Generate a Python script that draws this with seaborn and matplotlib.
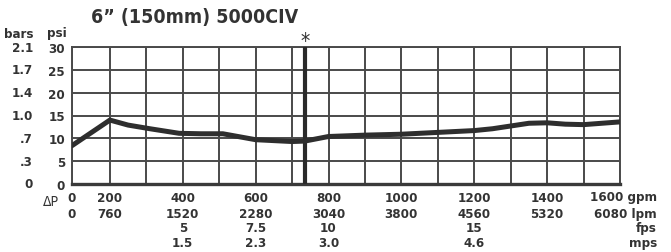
import numpy as np
import pandas as pd
import seaborn as sns
import matplotlib.pyplot as plt
from matplotlib.transforms import blended_transform_factory

# pressure drop curve
flow_gpm = [0, 200, 250, 310, 390, 450, 510, 600, 700, 735, 800, 900, 1000,
            1100, 1200, 1250, 1300, 1350, 1400, 1450, 1500, 1600]
dp_psi = [8.4, 14.0, 12.9, 12.1, 11.1, 11.0, 11.0, 9.7, 9.3, 9.4, 10.4, 10.7, 10.9,
          11.3, 11.7, 12.1, 12.7, 13.3, 13.4, 13.1, 13.0, 13.6]

gpm_ticks = [0, 200, 400, 600, 800, 1000, 1200, 1400, 1600]
lpm_labels = ['0', '760', '1520', '2280', '3040', '3800', '4560', '5320', '6080']
vel_ticks = [400, 600, 800, 1200]
fps_labels = ['5', '7.5', '10', '15']
mps_labels = ['1.5', '2.3', '3.0', '4.6']
psi_ticks = [0, 5, 10, 15, 20, 25, 30]
bars_labels = ['0', '.3', '.7', '1.0', '1.4', '1.7', '2.1']
rated_gpm = 735
title = '6\u201d (150mm) 5000CIV'

sns.set_style('white')
plt.rcParams['font.family'] = ['DejaVu Sans', 'Liberation Sans']
plt.rcParams['font.stretch'] = 'condensed'
plt.rcParams['font.weight'] = 'bold'

ink = '#333333'
W, H = 671, 253
fig = plt.figure(figsize=(W / 100, H / 100), dpi=100)
ax = fig.add_axes([72 / W, 1 - 185 / H, (620 - 72) / W, (185 - 48) / H])


# the 0-200 gpm segment is squeezed on the original chart
def fwd(x):
    x = np.asarray(x, dtype=float)
    return np.where(x < 200, x * 0.52, x - 96)


def inv(y):
    y = np.asarray(y, dtype=float)
    return np.where(y < 104, y / 0.52, y + 96)


ax.set_xscale('function', functions=(fwd, inv))

df = pd.DataFrame({'gpm': flow_gpm, 'psi': dp_psi})
sns.lineplot(data=df, x='gpm', y='psi', ax=ax, color='#2e2e2e', linewidth=3.6,
             solid_joinstyle='round', solid_capstyle='round', zorder=5)

ax.set_xlim(0, 1600)
ax.set_ylim(0, 30)
ax.set_xticks(gpm_ticks)
ax.set_xticks([v for v in range(300, 1600, 200)], minor=True)
ax.set_yticks(psi_ticks)
ax.set_xticklabels([])
ax.set_yticklabels([str(v) for v in psi_ticks], fontsize=9.5, color=ink)
ax.tick_params(axis='x', which='both', length=0)
ax.tick_params(axis='y', length=0, pad=5)
ax.grid(True, which='both', color='#4a4a4a', linewidth=1.4)
ax.set_xlabel('')
ax.set_ylabel('')
for side in ['top', 'right', 'left']:
    ax.spines[side].set_color('#4a4a4a')
    ax.spines[side].set_linewidth(1.4)
ax.spines['bottom'].set_color('#3a3a3a')
ax.spines['bottom'].set_linewidth(2.4)

# rated flow marker
ax.axvline(rated_gpm, color='#2a2a2a', linewidth=3, zorder=4)
tr = blended_transform_factory(ax.transData, fig.transFigure)
ax.text(rated_gpm, 1 - 42 / H, '*', transform=tr, ha='center', va='center',
        fontsize=15, fontweight='normal', color=ink)

# bars column and headers
for p, b in zip(psi_ticks, bars_labels):
    ax.text(33 / W, p, b, transform=blended_transform_factory(fig.transFigure, ax.transData),
            ha='right', va='center', fontsize=9.5, color=ink)
fig.text(19 / W, 1 - 34 / H, 'bars', ha='center', va='center', fontsize=9.5, color=ink)
fig.text(57 / W, 1 - 34 / H, 'psi', ha='center', va='center', fontsize=9.5, color=ink)

# title
fig.text(195 / W, 1 - 17 / H, title, ha='center', va='center', fontsize=14, color=ink)

# flow scales under the axis
for g, l in zip(gpm_ticks[:-1], lpm_labels[:-1]):
    ax.text(g, 1 - 198 / H, str(g), transform=tr, ha='center', va='center', fontsize=9.5, color=ink)
    ax.text(g, 1 - 215 / H, l, transform=tr, ha='center', va='center', fontsize=9.5, color=ink)
for g, f, m in zip(vel_ticks, fps_labels, mps_labels):
    ax.text(g, 1 - 229 / H, f, transform=tr, ha='center', va='center', fontsize=9.5, color=ink)
    ax.text(g, 1 - 244 / H, m, transform=tr, ha='center', va='center', fontsize=9.5, color=ink)

right = 657 / W
fig.text(right, 1 - 198 / H, f'{gpm_ticks[-1]} gpm', ha='right', va='center', fontsize=9.5, color=ink)
fig.text(right, 1 - 215 / H, f'{lpm_labels[-1]} lpm', ha='right', va='center', fontsize=9.5, color=ink)
fig.text(right, 1 - 229 / H, 'fps', ha='right', va='center', fontsize=9.5, color=ink)
fig.text(right, 1 - 244 / H, 'mps', ha='right', va='center', fontsize=9.5, color=ink)
fig.text(51 / W, 1 - 202 / H, '\u0394P', ha='center', va='center', fontsize=10,
         fontweight='normal', color=ink)

fig.savefig('out.png', dpi=100)
